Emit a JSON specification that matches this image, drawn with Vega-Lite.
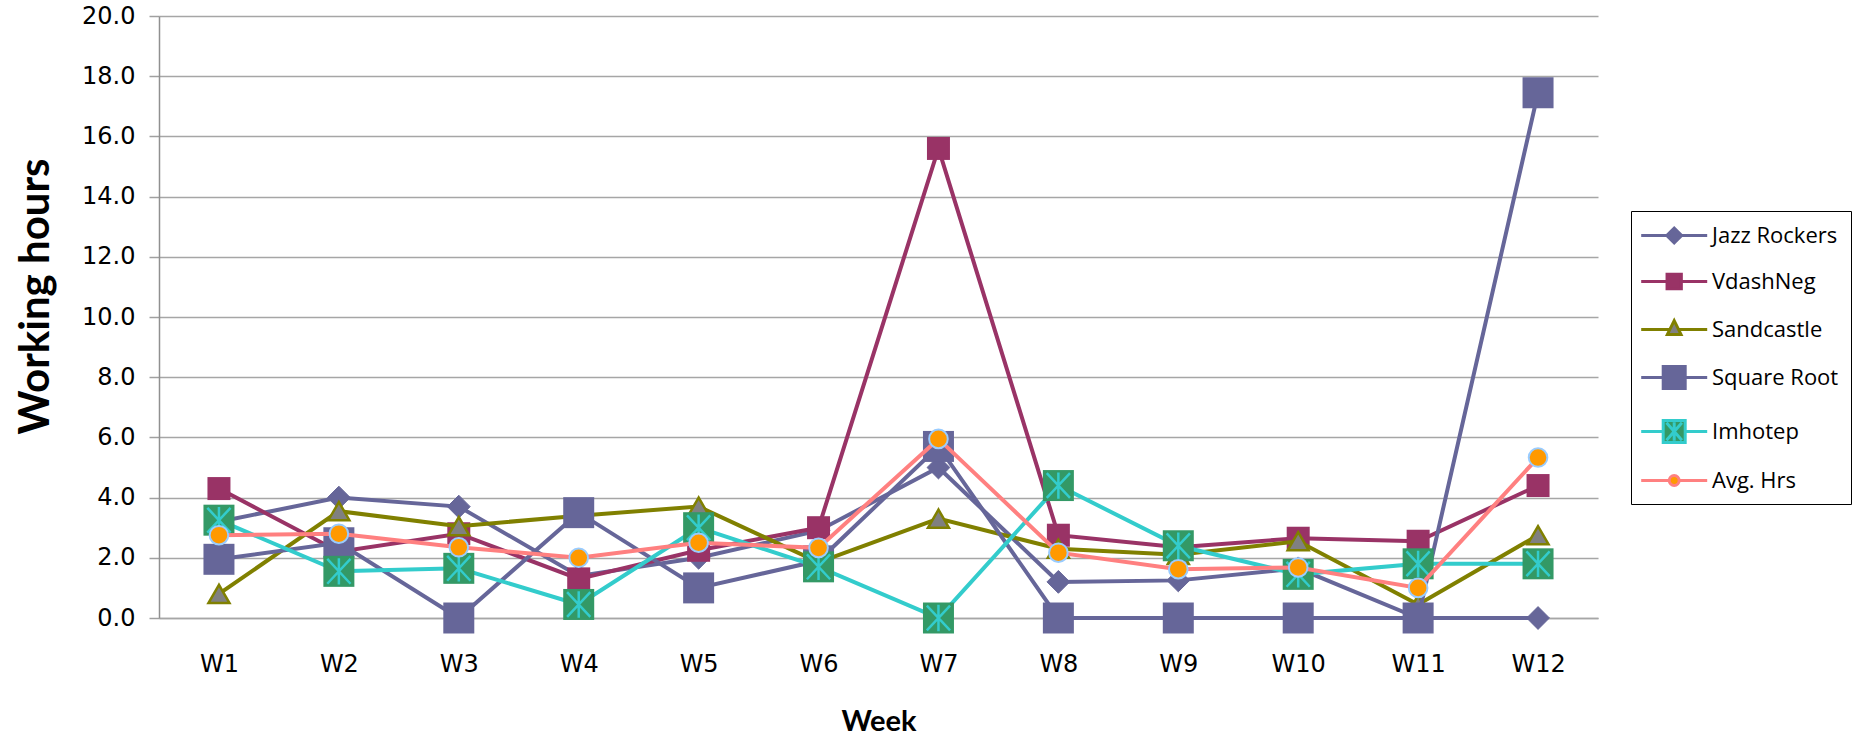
{
  "$schema": "https://vega.github.io/schema/vega-lite/v6.json",
  "autosize": {"type": "none"},
  "width": 1439,
  "height": 602,
  "padding": {"left": 159, "top": 16, "right": 275, "bottom": 118},
  "background": "white",
  "config": {
    "view": {"stroke": null},
    "axis": {"labelColor": "black", "titleColor": "black"},
    "legend": {"orient": "none"}
  },
  "data": {
    "values": [
      {"week": "W1", "series": "Jazz Rockers", "hours": 3.2},
      {"week": "W2", "series": "Jazz Rockers", "hours": 4.0},
      {"week": "W3", "series": "Jazz Rockers", "hours": 3.7},
      {"week": "W4", "series": "Jazz Rockers", "hours": 1.4},
      {"week": "W5", "series": "Jazz Rockers", "hours": 2.0},
      {"week": "W6", "series": "Jazz Rockers", "hours": 2.9},
      {"week": "W7", "series": "Jazz Rockers", "hours": 5.0},
      {"week": "W8", "series": "Jazz Rockers", "hours": 1.2},
      {"week": "W9", "series": "Jazz Rockers", "hours": 1.25},
      {"week": "W10", "series": "Jazz Rockers", "hours": 1.65},
      {"week": "W11", "series": "Jazz Rockers", "hours": 0},
      {"week": "W12", "series": "Jazz Rockers", "hours": 0},
      {"week": "W1", "series": "VdashNeg", "hours": 4.3},
      {"week": "W2", "series": "VdashNeg", "hours": 2.2},
      {"week": "W3", "series": "VdashNeg", "hours": 2.8},
      {"week": "W4", "series": "VdashNeg", "hours": 1.3},
      {"week": "W5", "series": "VdashNeg", "hours": 2.25},
      {"week": "W6", "series": "VdashNeg", "hours": 3.0},
      {"week": "W7", "series": "VdashNeg", "hours": 15.6},
      {"week": "W8", "series": "VdashNeg", "hours": 2.75},
      {"week": "W9", "series": "VdashNeg", "hours": 2.35},
      {"week": "W10", "series": "VdashNeg", "hours": 2.65},
      {"week": "W11", "series": "VdashNeg", "hours": 2.55},
      {"week": "W12", "series": "VdashNeg", "hours": 4.4},
      {"week": "W1", "series": "Sandcastle", "hours": 0.8},
      {"week": "W2", "series": "Sandcastle", "hours": 3.55},
      {"week": "W3", "series": "Sandcastle", "hours": 3.05},
      {"week": "W4", "series": "Sandcastle", "hours": 3.4},
      {"week": "W5", "series": "Sandcastle", "hours": 3.7},
      {"week": "W6", "series": "Sandcastle", "hours": 1.85},
      {"week": "W7", "series": "Sandcastle", "hours": 3.3},
      {"week": "W8", "series": "Sandcastle", "hours": 2.3},
      {"week": "W9", "series": "Sandcastle", "hours": 2.1},
      {"week": "W10", "series": "Sandcastle", "hours": 2.55},
      {"week": "W11", "series": "Sandcastle", "hours": 0.45},
      {"week": "W12", "series": "Sandcastle", "hours": 2.75},
      {"week": "W1", "series": "Square Root", "hours": 1.95},
      {"week": "W2", "series": "Square Root", "hours": 2.5},
      {"week": "W3", "series": "Square Root", "hours": 0},
      {"week": "W4", "series": "Square Root", "hours": 3.5},
      {"week": "W5", "series": "Square Root", "hours": 1.0},
      {"week": "W6", "series": "Square Root", "hours": 1.9},
      {"week": "W7", "series": "Square Root", "hours": 5.7},
      {"week": "W8", "series": "Square Root", "hours": 0},
      {"week": "W9", "series": "Square Root", "hours": 0},
      {"week": "W10", "series": "Square Root", "hours": 0},
      {"week": "W11", "series": "Square Root", "hours": 0},
      {"week": "W12", "series": "Square Root", "hours": 17.45},
      {"week": "W1", "series": "Imhotep", "hours": 3.25},
      {"week": "W2", "series": "Imhotep", "hours": 1.55},
      {"week": "W3", "series": "Imhotep", "hours": 1.65},
      {"week": "W4", "series": "Imhotep", "hours": 0.45},
      {"week": "W5", "series": "Imhotep", "hours": 3.0},
      {"week": "W6", "series": "Imhotep", "hours": 1.7},
      {"week": "W7", "series": "Imhotep", "hours": 0},
      {"week": "W8", "series": "Imhotep", "hours": 4.4},
      {"week": "W9", "series": "Imhotep", "hours": 2.4},
      {"week": "W10", "series": "Imhotep", "hours": 1.45},
      {"week": "W11", "series": "Imhotep", "hours": 1.8},
      {"week": "W12", "series": "Imhotep", "hours": 1.8},
      {"week": "W1", "series": "Avg. Hrs", "hours": 2.75},
      {"week": "W2", "series": "Avg. Hrs", "hours": 2.8},
      {"week": "W3", "series": "Avg. Hrs", "hours": 2.35},
      {"week": "W4", "series": "Avg. Hrs", "hours": 2.0},
      {"week": "W5", "series": "Avg. Hrs", "hours": 2.5},
      {"week": "W6", "series": "Avg. Hrs", "hours": 2.33},
      {"week": "W7", "series": "Avg. Hrs", "hours": 5.95},
      {"week": "W8", "series": "Avg. Hrs", "hours": 2.17},
      {"week": "W9", "series": "Avg. Hrs", "hours": 1.62},
      {"week": "W10", "series": "Avg. Hrs", "hours": 1.68},
      {"week": "W11", "series": "Avg. Hrs", "hours": 1.0},
      {"week": "W12", "series": "Avg. Hrs", "hours": 5.33}
    ]
  },
  "encoding": {
    "x": {
      "field": "week", "type": "ordinal", "sort": null,
      "scale": {"type": "point", "padding": 0.5, "domain": ["W1","W2","W3","W4","W5","W6","W7","W8","W9","W10","W11","W12"]},
      "axis": {
        "title": "Week", "titleFont": "Lato", "titleFontSize": 29, "titleFontWeight": "bold", "titlePadding": 31,
        "labelFont": "DejaVu Sans", "labelFontSize": 24, "labelAngle": 0, "labelPadding": 34,
        "ticks": false, "tickSize": 0, "grid": false, "domainColor": "#a6a6a6", "domainWidth": 1.5
      }
    },
    "y": {
      "field": "hours", "type": "quantitative",
      "scale": {"domain": [0, 20], "nice": false},
      "axis": {
        "title": "Working hours", "titleFont": "Lato", "titleFontSize": 42, "titleFontWeight": "bold", "titlePadding": 24, "titleY": 280,
        "labelFont": "DejaVu Sans", "labelFontSize": 24, "labelPadding": 14, "format": ".1f",
        "values": [0, 2, 4, 6, 8, 10, 12, 14, 16, 18, 20],
        "tickSize": 10, "tickColor": "#a0a0a0", "tickWidth": 1.5,
        "grid": true, "gridColor": "#a6a6a6", "gridWidth": 1.5,
        "domainColor": "#909090", "domainWidth": 1.5
      }
    }
  },
  "layer": [
    {"transform": [{"filter": "datum.series === 'Jazz Rockers'"}], "mark": {"type": "line", "color": "#666699", "strokeWidth": 4}},
    {"transform": [{"filter": "datum.series === 'Jazz Rockers'"}], "mark": {"type": "point", "shape": "diamond", "filled": true, "fill": "#666699", "stroke": "#666699", "strokeWidth": 1, "size": 520, "opacity": 1}},
    {"transform": [{"filter": "datum.series === 'VdashNeg'"}], "mark": {"type": "line", "color": "#993366", "strokeWidth": 4}},
    {"transform": [{"filter": "datum.series === 'VdashNeg'"}], "mark": {"type": "point", "shape": "square", "filled": true, "fill": "#993366", "stroke": "#993366", "strokeWidth": 0, "size": 529, "opacity": 1}},
    {"transform": [{"filter": "datum.series === 'Sandcastle'"}], "mark": {"type": "line", "color": "#808000", "strokeWidth": 4}},
    {"transform": [{"filter": "datum.series === 'Sandcastle'"}], "mark": {"type": "point", "shape": "triangle-up", "filled": true, "fill": "#808080", "stroke": "#808000", "strokeWidth": 2.5, "size": 441, "opacity": 1}},
    {"transform": [{"filter": "datum.series === 'Square Root'"}], "mark": {"type": "line", "color": "#666699", "strokeWidth": 4}},
    {"transform": [{"filter": "datum.series === 'Square Root'"}], "mark": {"type": "point", "shape": "square", "filled": true, "fill": "#666699", "stroke": "#666699", "strokeWidth": 0, "size": 961, "opacity": 1}},
    {"transform": [{"filter": "datum.series === 'Imhotep'"}], "mark": {"type": "line", "color": "#33CCCC", "strokeWidth": 4}},
    {"transform": [{"filter": "datum.series === 'Imhotep'"}], "mark": {"type": "point", "shape": "square", "filled": true, "fill": "#339966", "stroke": "#339966", "strokeWidth": 0, "size": 961, "opacity": 1}},
    {"transform": [{"filter": "datum.series === 'Imhotep'"}], "mark": {"type": "point", "shape": "M0,-0.85L0,0.85M-0.75,-0.8L0.75,0.8M0.75,-0.8L-0.75,0.8", "filled": false, "stroke": "#33CCCC", "strokeWidth": 2.5, "size": 961, "opacity": 1}},
    {"transform": [{"filter": "datum.series === 'Avg. Hrs'"}], "mark": {"type": "line", "color": "#FF8080", "strokeWidth": 4}},
    {"transform": [{"filter": "datum.series === 'Avg. Hrs'"}], "mark": {"type": "point", "shape": "circle", "filled": true, "fill": "#FF9900", "stroke": "#99CCFF", "strokeWidth": 2, "size": 346, "opacity": 1}},
    {
      "transform": [{"filter": "false"}],
      "mark": {"type": "point", "filled": true, "opacity": 1, "strokeWidth": 3},
      "encoding": {
        "shape": {
          "field": "series", "type": "nominal",
          "scale": {
            "domain": ["Jazz Rockers", "VdashNeg", "Sandcastle", "Square Root", "Imhotep", "Avg. Hrs"],
            "range": [
              "M-1.3,0L1.02,0M2.38,0L4.7,0M1.02,0L1.7,-0.68L2.38,0L1.7,0.68Z",
              "M-1.3,0L1.05,0M2.35,0L4.7,0M1.05,-0.65L2.35,-0.65L2.35,0.65L1.05,0.65Z",
              "M-1.3,0L1.3,0M2.1,0L4.7,0M1.7,-0.8L2.32,0.45L1.08,0.45Z",
              "M-1.3,0L0.7,0M2.7,0L4.7,0M0.7,-1L2.7,-1L2.7,1L0.7,1Z",
              "M-1.3,0L0.7,0M2.7,0L4.7,0M0.7,-1L2.7,-1L2.7,1L0.7,1ZM1.7,-0.85L1.7,0.85M1.0,-0.8L2.4,0.8M2.4,-0.8L1.0,0.8",
              "M-1.3,0L1.25,0M2.15,0L4.7,0M1.25,0A0.45,0.45,0,1,0,2.15,0A0.45,0.45,0,1,0,1.25,0Z"
            ]
          },
          "legend": {
            "title": null, "orient": "none", "legendX": 1472, "legendY": 195,
            "strokeColor": "black", "padding": 12,
            "symbolSize": 484, "symbolStrokeWidth": 3, "rowPadding": 19,
            "labelFont": "Open Sans", "labelFontSize": 22, "labelColor": "black", "labelOffset": 44,
            "encode": {"legend": {"update": {"strokeWidth": {"value": 2.5}}}}
          }
        },
        "fill": {
          "field": "series", "type": "nominal",
          "scale": {
            "domain": ["Jazz Rockers", "VdashNeg", "Sandcastle", "Square Root", "Imhotep", "Avg. Hrs"],
            "range": ["#666699", "#993366", "#808080", "#666699", "#339966", "#FF9900"]
          }
        },
        "stroke": {
          "field": "series", "type": "nominal",
          "scale": {
            "domain": ["Jazz Rockers", "VdashNeg", "Sandcastle", "Square Root", "Imhotep", "Avg. Hrs"],
            "range": ["#666699", "#993366", "#808000", "#666699", "#33CCCC", "#FF8080"]
          }
        }
      }
    }
  ]
}
